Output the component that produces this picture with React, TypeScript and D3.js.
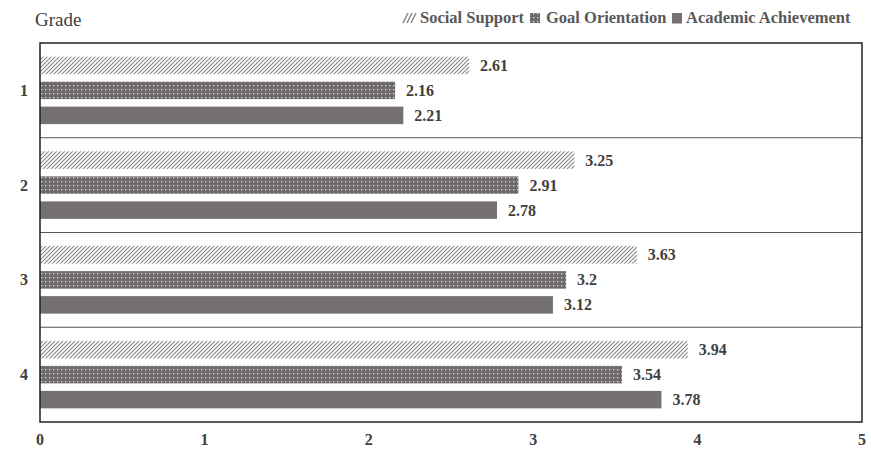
import React from "react";
import * as d3 from "d3";

// Mean scores by grade for three measures
const grades = ["1", "2", "3", "4"];
const seriesNames = ["Social Support", "Goal Orientation", "Academic Achievement"];
const socialSupport = [2.61, 3.25, 3.63, 3.94];
const goalOrientation = [2.16, 2.91, 3.2, 3.54];
const academicAchievement = [2.21, 2.78, 3.12, 3.78];
const xTicks = [0, 1, 2, 3, 4, 5];

const seriesValues = [socialSupport, goalOrientation, academicAchievement];
const fills = ["url(#hatch)", "url(#dots)", "#767171"];

const W = 871;
const H = 452;
const plot = { left: 40, right: 862, top: 43, bottom: 422 };
const serif = "'Liberation Serif', 'Times New Roman', serif";
const textColor = "#404040";

export default function App() {
  const x = d3.scaleLinear().domain([0, 5]).range([plot.left, plot.right]);
  const y = d3.scaleBand<string>().domain(grades).range([plot.top, plot.bottom]);
  const inner = d3
    .scaleBand<string>()
    .domain(seriesNames)
    .range([0, y.bandwidth()])
    .paddingInner(0.3)
    .paddingOuter(0.545);

  const legendItems = [
    { name: seriesNames[0], icon: 403, text: 420 },
    { name: seriesNames[1], icon: 530, text: 546 },
    { name: seriesNames[2], icon: 672, text: 686 },
  ];

  const legendIcon = (i: number, lx: number) => {
    if (i === 0) {
      // three diagonal strokes
      return (
        <g stroke="#8a8a8a" strokeWidth={1.6}>
          {[0, 4, 8].map((o) => (
            <line key={o} x1={lx + o} y1={23} x2={lx + o + 5} y2={13} />
          ))}
        </g>
      );
    }
    if (i === 1) {
      return <rect x={lx} y={13} width={10} height={10} fill="url(#dots)" />;
    }
    return <rect x={lx} y={13} width={10} height={10.5} fill={fills[2]} />;
  };

  return (
    <svg
      width={W}
      height={H}
      style={{ position: "absolute", left: 0, top: 0, background: "#fff" }}
    >
      <defs>
        <pattern id="hatch" width="4" height="4" patternUnits="userSpaceOnUse">
          <rect width="4" height="4" fill="#fff" />
          <path d="M-1,1 l2,-2 M0,4 l4,-4 M3,5 l2,-2" stroke="#8a8a8a" strokeWidth="1.2" />
        </pattern>
        <pattern id="dots" width="4" height="4" patternUnits="userSpaceOnUse">
          <rect width="4" height="4" fill="#6f6b6b" />
          <rect x="1" y="1" width="1.3" height="1.3" fill="#d8d8d8" />
        </pattern>
      </defs>

      {/* Title */}
      <text x={35} y={26} fontFamily={serif} fontSize={19} fill={textColor}>
        Grade
      </text>

      {/* Legend */}
      {legendItems.map((it, i) => (
        <g key={it.name}>
          {legendIcon(i, it.icon)}
          <text
            x={it.text}
            y={23}
            fontFamily={serif}
            fontSize={16.5}
            fontWeight="bold"
            fill="#595959"
          >
            {it.name}
          </text>
        </g>
      ))}

      {/* Group separators */}
      {grades.slice(1).map((g) => (
        <line
          key={g}
          x1={plot.left}
          x2={plot.right}
          y1={y(g)}
          y2={y(g)}
          stroke="#555"
          strokeWidth={1}
        />
      ))}

      {/* Bars and value labels */}
      {grades.map((g, gi) =>
        seriesNames.map((s, si) => {
          const v = seriesValues[si][gi];
          const by = (y(g) as number) + (inner(s) as number);
          return (
            <g key={g + s}>
              <rect
                x={x(0)}
                y={by}
                width={x(v) - x(0)}
                height={inner.bandwidth()}
                fill={fills[si]}
              />
              <text
                x={x(v) + 11}
                y={by + inner.bandwidth() / 2}
                dy="0.35em"
                fontFamily={serif}
                fontSize={16}
                fontWeight="bold"
                fill={textColor}
              >
                {v}
              </text>
            </g>
          );
        })
      )}

      {/* Plot frame */}
      <rect
        x={plot.left}
        y={plot.top}
        width={plot.right - plot.left}
        height={plot.bottom - plot.top}
        fill="none"
        stroke="#222"
        strokeWidth={1.5}
      />

      {/* Category labels */}
      {grades.map((g) => (
        <text
          key={g}
          x={24}
          y={(y(g) as number) + y.bandwidth() / 2}
          dy="0.35em"
          textAnchor="middle"
          fontFamily={serif}
          fontSize={16}
          fontWeight="bold"
          fill={textColor}
        >
          {g}
        </text>
      ))}

      {/* Value axis labels */}
      {xTicks.map((t) => (
        <text
          key={t}
          x={x(t)}
          y={445}
          textAnchor="middle"
          fontFamily={serif}
          fontSize={16}
          fontWeight="bold"
          fill={textColor}
        >
          {t}
        </text>
      ))}
    </svg>
  );
}
